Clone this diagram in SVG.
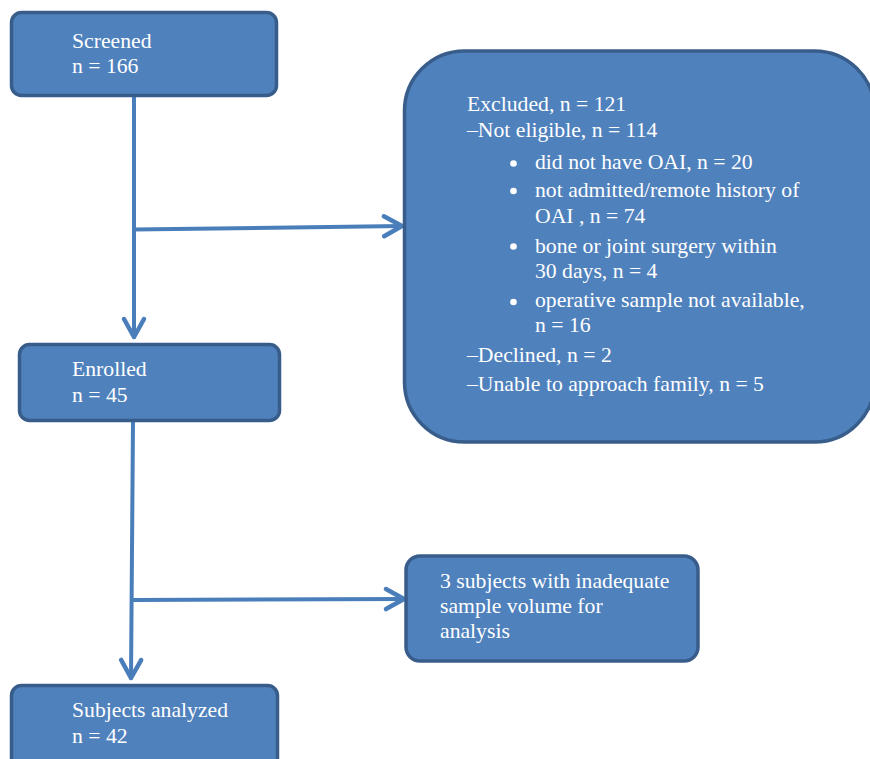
<svg xmlns="http://www.w3.org/2000/svg" width="870" height="759" viewBox="0 0 870 759">
<style>
.box{fill:#4f81bd;stroke:#385d8a;stroke-width:3.5}
.t{font-family:'Liberation Serif','Times New Roman','DejaVu Serif',serif;font-size:21.7px;fill:#ffffff}
.c{fill:none;stroke:#4a7ebb;stroke-width:4;stroke-linecap:round}
.dot{fill:#ffffff}
</style>
<defs>
<marker id="arr" markerUnits="userSpaceOnUse" markerWidth="30" markerHeight="30" viewBox="-25 -15 30 30" refX="0" refY="0" orient="auto" overflow="visible">
<path d="M-18,-10 L0,0 L-18,10" fill="none" stroke="#4a7ebb" stroke-width="4.5" stroke-linecap="round" stroke-linejoin="round"/>
</marker>
</defs>
<rect width="870" height="759" fill="#ffffff"/>
<g id="connectors">
<path class="c" d="M134,97 L134,337" marker-end="url(#arr)"/>
<path class="c" d="M134,229.5 L402,226" marker-end="url(#arr)"/>
<path class="c" d="M133,422 L131,678" marker-end="url(#arr)"/>
<path class="c" d="M132,600 L404,599" marker-end="url(#arr)"/>
</g>
<g id="screened">
<rect class="box" x="11.5" y="12.5" width="265" height="83" rx="10"/>
<text class="t" x="72" y="48">Screened</text>
<text class="t" x="72" y="73">n = 166</text>
</g>
<g id="excluded">
<rect class="box" x="404.5" y="51" width="470" height="391" rx="60"/>
<text class="t" x="467" y="111">Excluded, n = 121</text>
<text class="t" x="467" y="137">–Not eligible, n = 114</text>
<circle class="dot" cx="513.5" cy="163.5" r="3.3"/>
<text class="t" x="535" y="169">did not have OAI, n = 20</text>
<circle class="dot" cx="513.5" cy="191" r="3.3"/>
<text class="t" x="535" y="197">not admitted/remote history of</text>
<text class="t" x="535" y="223">OAI , n = 74</text>
<circle class="dot" cx="513.5" cy="246.5" r="3.3"/>
<text class="t" x="535" y="253">bone or joint surgery within</text>
<text class="t" x="535" y="278">30 days, n = 4</text>
<circle class="dot" cx="513.5" cy="302" r="3.3"/>
<text class="t" x="535" y="307">operative sample not available,</text>
<text class="t" x="535" y="332">n = 16</text>
<text class="t" x="467" y="362">–Declined, n = 2</text>
<text class="t" x="467" y="391">–Unable to approach family, n = 5</text>
</g>
<g id="enrolled">
<rect class="box" x="19.5" y="344.5" width="260" height="76" rx="10"/>
<text class="t" x="72" y="376">Enrolled</text>
<text class="t" x="72" y="402">n = 45</text>
</g>
<g id="inadequate">
<rect class="box" x="406" y="556" width="292" height="105" rx="14"/>
<text class="t" x="440" y="588">3 subjects with inadequate</text>
<text class="t" x="440" y="613">sample volume for</text>
<text class="t" x="440" y="638">analysis</text>
</g>
<g id="analyzed">
<rect class="box" x="11.5" y="685.5" width="266" height="83" rx="10"/>
<text class="t" x="72" y="717">Subjects analyzed</text>
<text class="t" x="72" y="743">n = 42</text>
</g>
</svg>
